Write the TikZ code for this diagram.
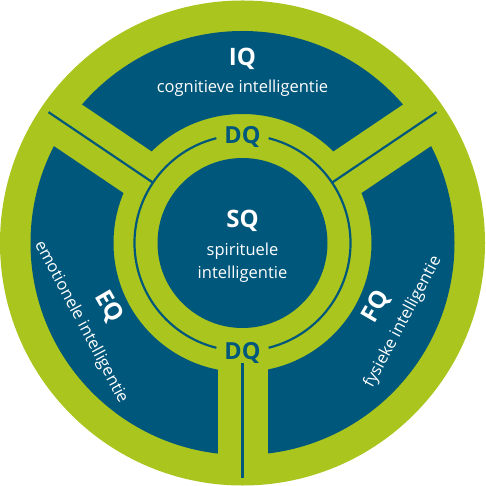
\documentclass[tikz,border=0pt]{standalone}
\usepackage{fontspec}
\setmainfont{Open Sans}
\definecolor{dqblue}{HTML}{00577C}
\definecolor{dqgreen}{HTML}{AAC61E}
\begin{document}
\begin{tikzpicture}[x=1pt,y=1pt,
  txt/.style={text=white,font=\fontsize{16.5}{20}\selectfont,inner sep=0pt},
  bigtxt/.style={text=white,font=\bfseries\fontsize{24}{28}\selectfont,inner sep=0pt},
  dqtxt/.style={text=dqblue,font=\bfseries\fontsize{23.5}{27}\selectfont,inner sep=0pt},
  bluerule/.style={draw=dqblue,line width=2.2pt},
  spokeband/.style={draw=dqgreen,line width=50pt}]
\useasboundingbox (-242.5,-243) rectangle (242.5,243);
\fill[dqgreen] (0,0) circle (242.5);
\fill[dqblue,even odd rule] (0,0) circle (212) (0,0) circle (129);
\foreach \a in {34,146,270} \draw[spokeband] (0,0) -- (\a:232);
\fill[dqblue] (0,0) circle (85);
\draw[bluerule] (104:108) arc (104:256:108);
\draw[bluerule] (-76:108) arc (-76:76:108);
\draw[bluerule] (34:108) -- (34:234);
\draw[bluerule] (146:108) -- (146:234);
\draw[bluerule] (270:120) -- (270:235);
\node[bigtxt,anchor=base] (iq) at (0,177) {IQ};
\node[txt,anchor=base] (iqt) at (0,150) {cognitieve intelligentie};
\node[bigtxt,anchor=base] (sq) at (0,15) {SQ};
\node[txt,anchor=base] (sqa) at (0,-13) {spirituele};
\node[txt,anchor=base] (sqb) at (0,-36) {intelligentie};
\node[dqtxt,anchor=base] (dqtop) at (0,99.5) {DQ};
\node[dqtxt,anchor=base] (dqbot) at (0,-116.5) {DQ};
\node[bigtxt,rotate=-60] (eq) at (-134,-64) {EQ};
\node[txt,rotate=-62] (eqt) at (-161.5,-79) {emotionele intelligentie};
\node[bigtxt,rotate=60] (fq) at (134,-64) {FQ};
\node[txt,rotate=62] (fqt) at (160.5,-79) {fysieke intelligentie};
\end{tikzpicture}
\end{document}
